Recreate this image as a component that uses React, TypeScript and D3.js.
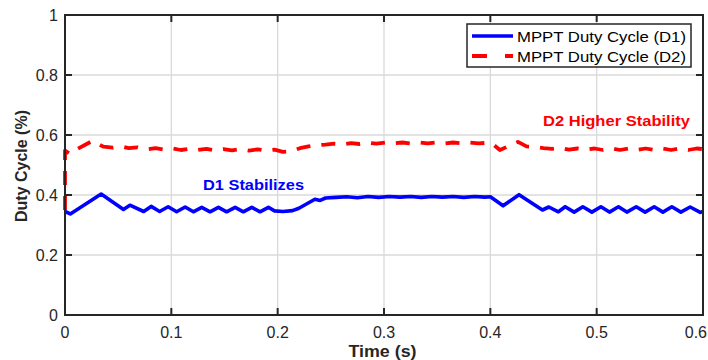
import React from "react";
import * as d3 from "d3";

// ---- Data ----
const d1Time = [0, 0.005, 0.034, 0.055, 0.061, 0.074, 0.081, 0.089, 0.097, 0.105, 0.113, 0.1207, 0.1286, 0.1364, 0.1443, 0.152, 0.16, 0.1677, 0.1756, 0.1834, 0.1913, 0.197, 0.205, 0.214, 0.22, 0.235, 0.24, 0.245, 0.255, 0.265, 0.275, 0.285, 0.295, 0.305, 0.315, 0.325, 0.335, 0.345, 0.355, 0.365, 0.375, 0.385, 0.395, 0.4, 0.412, 0.427, 0.449, 0.455, 0.464, 0.4704, 0.4788, 0.487, 0.4955, 0.504, 0.512, 0.5205, 0.5284, 0.5372, 0.5456, 0.5541, 0.5623, 0.5707, 0.5792, 0.5879, 0.5974, 0.6];
const d1Value = [0.345, 0.337, 0.403, 0.352, 0.366, 0.345, 0.362, 0.345, 0.361, 0.344, 0.36, 0.344, 0.359, 0.344, 0.359, 0.344, 0.359, 0.344, 0.359, 0.344, 0.359, 0.347, 0.345, 0.348, 0.356, 0.386, 0.382, 0.39, 0.392, 0.394, 0.391, 0.395, 0.392, 0.395, 0.393, 0.395, 0.392, 0.395, 0.393, 0.395, 0.392, 0.395, 0.393, 0.394, 0.364, 0.401, 0.35, 0.36, 0.344, 0.361, 0.343, 0.361, 0.343, 0.361, 0.343, 0.361, 0.343, 0.361, 0.343, 0.361, 0.343, 0.361, 0.343, 0.36, 0.342, 0.345];

const d2Time = [0, 0, 0.005, 0.011, 0.026, 0.036, 0.045, 0.053, 0.06, 0.068, 0.077, 0.085, 0.093, 0.101, 0.109, 0.117, 0.125, 0.133, 0.141, 0.149, 0.157, 0.165, 0.173, 0.181, 0.189, 0.197, 0.205, 0.213, 0.221, 0.229, 0.237, 0.245, 0.253, 0.261, 0.269, 0.277, 0.285, 0.293, 0.301, 0.309, 0.317, 0.325, 0.333, 0.341, 0.349, 0.357, 0.365, 0.373, 0.381, 0.389, 0.397, 0.401, 0.409, 0.426, 0.434, 0.442, 0.45, 0.458, 0.466, 0.474, 0.482, 0.49, 0.498, 0.506, 0.514, 0.522, 0.53, 0.538, 0.546, 0.554, 0.562, 0.57, 0.578, 0.586, 0.594, 0.6];
const d2Value = [0.35, 0.548, 0.537, 0.552, 0.581, 0.561, 0.558, 0.562, 0.556, 0.559, 0.552, 0.556, 0.551, 0.555, 0.55, 0.554, 0.55, 0.554, 0.549, 0.553, 0.549, 0.553, 0.548, 0.552, 0.548, 0.551, 0.544, 0.546, 0.556, 0.562, 0.566, 0.568, 0.571, 0.569, 0.573, 0.57, 0.574, 0.571, 0.575, 0.572, 0.575, 0.572, 0.575, 0.572, 0.575, 0.572, 0.575, 0.572, 0.575, 0.572, 0.574, 0.573, 0.55, 0.577, 0.562, 0.56, 0.556, 0.554, 0.557, 0.551, 0.555, 0.551, 0.555, 0.55, 0.555, 0.55, 0.555, 0.55, 0.555, 0.55, 0.555, 0.55, 0.555, 0.55, 0.555, 0.553];

const xTicks = [0, 0.1, 0.2, 0.3, 0.4, 0.5, 0.6];
const xTickLabels = ["0", "0.1", "0.2", "0.3", "0.4", "0.5", "0.6"];
const yTicks = [0, 0.2, 0.4, 0.6, 0.8, 1];
const yTickLabels = ["0", "0.2", "0.4", "0.6", "0.8", "1"];
const legendLabels = ["MPPT Duty Cycle (D1)", "MPPT Duty Cycle (D2)"];

const W = 708;
const H = 360;
const L = 65, R = 703, T = 15, B = 315;
const FONT = "'Liberation Sans', Arial, Helvetica, sans-serif";
const AX = "#262626";

export default function App() {
  const x = d3.scaleLinear().domain([0, 0.6]).range([L, R]);
  const y = d3.scaleLinear().domain([0, 1]).range([B, T]);
  const line = d3.line<[number, number]>().x((d) => x(d[0])).y((d) => y(d[1]));
  const d1 = line(d1Time.map((t, i) => [t, d1Value[i]] as [number, number])) || "";
  const d2 = line(d2Time.map((t, i) => [t, d2Value[i]] as [number, number])) || "";
  const tickLen = 7;

  return (
    <svg width={W} height={H} style={{ position: "fixed", left: 0, top: 0, background: "#fff" }} fontFamily={FONT}>
      <rect x={0} y={0} width={W} height={H} fill="#fff" />
      {/* grid */}
      {xTicks.slice(1, -1).map((t) => (
        <line key={"gx" + t} x1={x(t)} x2={x(t)} y1={T} y2={B} stroke="#dadada" strokeWidth={1.3} />
      ))}
      {yTicks.slice(1, -1).map((t) => (
        <line key={"gy" + t} x1={L} x2={R} y1={y(t)} y2={y(t)} stroke="#dadada" strokeWidth={1.3} />
      ))}
      {/* data */}
      <path d={d1} fill="none" stroke="#0000ff" strokeWidth={3.6} strokeLinejoin="round" />
      <path d={d2} fill="none" stroke="#ff0000" strokeWidth={3.8} strokeDasharray="14 11" strokeLinejoin="round" />
      {/* axes box */}
      <rect x={L} y={T} width={R - L} height={B - T} fill="none" stroke={AX} strokeWidth={2} />
      {xTicks.map((t) => (
        <g key={"xt" + t}>
          <line x1={x(t)} x2={x(t)} y1={B} y2={B - tickLen} stroke={AX} strokeWidth={2} />
          <line x1={x(t)} x2={x(t)} y1={T} y2={T + tickLen} stroke={AX} strokeWidth={2} />
        </g>
      ))}
      {yTicks.map((t) => (
        <g key={"yt" + t}>
          <line x1={L} x2={L + tickLen} y1={y(t)} y2={y(t)} stroke={AX} strokeWidth={2} />
          <line x1={R} x2={R - tickLen} y1={y(t)} y2={y(t)} stroke={AX} strokeWidth={2} />
        </g>
      ))}
      {/* tick labels */}
      {xTicks.map((t, i) => {
        const last = i === xTicks.length - 1;
        return (
          <text key={"xl" + t} x={last ? W - 1 : x(t)} y={338} textAnchor={last ? "end" : "middle"} fontSize={16} fill={AX}>
            {xTickLabels[i]}
          </text>
        );
      })}
      {yTicks.map((t, i) => (
        <text key={"yl" + t} x={58} y={y(t) + 6} textAnchor="end" fontSize={16} fill={AX}>
          {yTickLabels[i]}
        </text>
      ))}
      {/* axis titles */}
      <text x={382.5} y={357} textAnchor="middle" fontSize={16} fontWeight="bold" fill={AX} textLength={68} lengthAdjust="spacingAndGlyphs">
        Time (s)
      </text>
      <text transform={`translate(27,${(T + B) / 2 + 1}) rotate(-90)`} textAnchor="middle" fontSize={16} fontWeight="bold" fill={AX}>
        Duty Cycle (%)
      </text>
      {/* annotations */}
      <text x={203} y={190} fontSize={15} fontWeight="bold" fill="#0000ff" textLength={101} lengthAdjust="spacingAndGlyphs">
        D1 Stabilizes
      </text>
      <text x={543} y={126} fontSize={15} fontWeight="bold" fill="#ff0000" textLength={147} lengthAdjust="spacingAndGlyphs">
        D2 Higher Stability
      </text>
      {/* legend */}
      <rect x={467} y={24} width={224} height={43} fill="#fff" stroke={AX} strokeWidth={1.5} />
      <line x1={472} x2={513} y1={36} y2={36} stroke="#0000ff" strokeWidth={3.6} />
      <line x1={472} x2={513} y1={56} y2={56} stroke="#ff0000" strokeWidth={3.8} strokeDasharray="15 18" />
      {legendLabels.map((lab, i) => (
        <text key={lab} x={517} y={36 + i * 20 + 5.5} fontSize={15} fill="#000" textLength={169} lengthAdjust="spacingAndGlyphs">
          {lab}
        </text>
      ))}
    </svg>
  );
}
